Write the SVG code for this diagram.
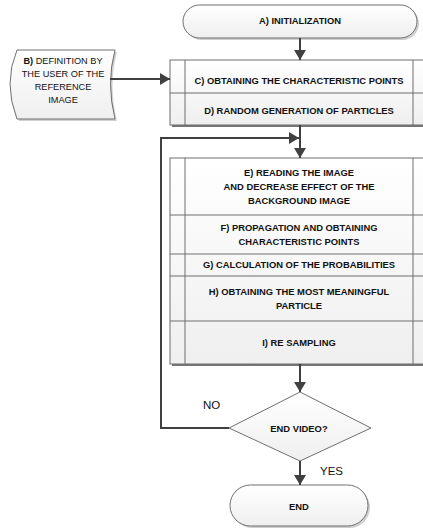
<svg xmlns="http://www.w3.org/2000/svg" width="423" height="529" viewBox="0 0 423 529">
<defs>
<linearGradient id="g" x1="0" y1="0" x2="0" y2="1"><stop offset="0" stop-color="#ffffff"/><stop offset="1" stop-color="#efefef"/></linearGradient>
<marker id="ah" markerUnits="userSpaceOnUse" markerWidth="12" markerHeight="12" viewBox="0 0 10 12" refX="10" refY="6" orient="auto"><path d="M0,0 L10,6 L0,12 z" fill="#404040"/></marker>
</defs>
<style>
.sh{fill:#b0b0b0;opacity:0.6}
.nd{fill:url(#g);stroke:#6f6f6f;stroke-width:1}
.ln{stroke:#6f6f6f;stroke-width:1;fill:none}
.cn{stroke:#404040;stroke-width:2;fill:none}
.t{font-family:"Liberation Sans",Arial,sans-serif;font-size:9.4px;font-weight:bold;fill:#111;text-anchor:middle}
.n{font-family:"Liberation Sans",Arial,sans-serif;font-size:9.2px;fill:#111;text-anchor:middle}
.l{font-family:"Liberation Sans",Arial,sans-serif;font-size:11.5px;fill:#111}
</style>
<g id="nodeA">
<rect class="sh" x="185" y="7" width="234" height="33" rx="16.5"/>
<rect class="nd" x="183" y="5" width="234" height="33" rx="16.5"/>
<text class="t" x="300" y="24">A) INITIALIZATION</text>
</g>
<g id="nodeB">
<path class="sh" d="M19,52 H117 Q108,85 117,121 H19 Q5,85 19,52 z"/>
<path class="nd" d="M17,50 H115 Q106,83 115,119 H17 Q3,83 17,50 z"/>
<text class="n" x="63" y="64"><tspan font-weight="bold">B)</tspan> DEFINITION BY</text>
<text class="n" x="63" y="77">THE USER OF THE</text>
<text class="n" x="63" y="90">REFERENCE</text>
<text class="n" x="63" y="103">IMAGE</text>
</g>
<g id="nodeCD">
<rect x="172" y="63" width="258" height="64" fill="#3a3a3a" opacity="0.7"/>
<rect class="nd" x="170" y="60" width="258" height="65"/>
<line class="ln" x1="185" y1="60" x2="185" y2="125"/>
<line class="ln" x1="413" y1="60" x2="413" y2="125"/>
<line class="ln" x1="170" y1="93" x2="428" y2="93"/>
<text class="t" x="299" y="83.5">C) OBTAINING THE CHARACTERISTIC POINTS</text>
<text class="t" x="299" y="113.5">D) RANDOM GENERATION OF PARTICLES</text>
</g>
<g id="nodeEI">
<rect x="172" y="161" width="258" height="205" fill="#3a3a3a" opacity="0.7"/>
<rect class="nd" x="170" y="158" width="258" height="206"/>
<line class="ln" x1="185" y1="158" x2="185" y2="364"/>
<line class="ln" x1="413" y1="158" x2="413" y2="364"/>
<line class="ln" x1="170" y1="215" x2="428" y2="215"/>
<line class="ln" x1="170" y1="254" x2="428" y2="254"/>
<line class="ln" x1="170" y1="276" x2="428" y2="276"/>
<line class="ln" x1="170" y1="321" x2="428" y2="321"/>
<text class="t" x="299" y="175.5">E) READING THE IMAGE</text>
<text class="t" x="299" y="189.5">AND DECREASE EFFECT OF THE</text>
<text class="t" x="299" y="203.5">BACKGROUND IMAGE</text>
<text class="t" x="299" y="230.5">F) PROPAGATION AND OBTAINING</text>
<text class="t" x="299" y="244.5">CHARACTERISTIC POINTS</text>
<text class="t" x="299" y="267.5">G) CALCULATION OF THE PROBABILITIES</text>
<text class="t" x="299" y="294.5">H) OBTAINING THE MOST MEANINGFUL</text>
<text class="t" x="299" y="308.5">PARTICLE</text>
<text class="t" x="299" y="345.5">I) RE SAMPLING</text>
</g>
<g id="nodeDecision">
<polygon class="nd" points="300,392 371,428 300,461 229,428"/>
<text class="t" x="299" y="431.5">END VIDEO?</text>
</g>
<g id="nodeEnd">
<rect class="sh" x="232" y="487" width="138" height="41" rx="20.5"/>
<rect class="nd" x="230" y="485" width="138" height="41" rx="20.5"/>
<text class="t" x="299" y="509.5">END</text>
</g>
<g id="connectors">
<line class="cn" x1="300" y1="38" x2="300" y2="60" marker-end="url(#ah)"/>
<line class="cn" x1="110" y1="79" x2="170" y2="79" marker-end="url(#ah)"/>
<line class="cn" x1="300" y1="125" x2="300" y2="158" marker-end="url(#ah)"/>
<path class="cn" d="M229,428 H161 V138 H299" marker-end="url(#ah)"/>
<line class="cn" x1="300" y1="364" x2="300" y2="392" marker-end="url(#ah)"/>
<line class="cn" x1="300" y1="461" x2="300" y2="485" marker-end="url(#ah)"/>
<text class="l" x="203" y="408.5">NO</text>
<text class="l" x="320" y="474.5">YES</text>
</g>
</svg>
